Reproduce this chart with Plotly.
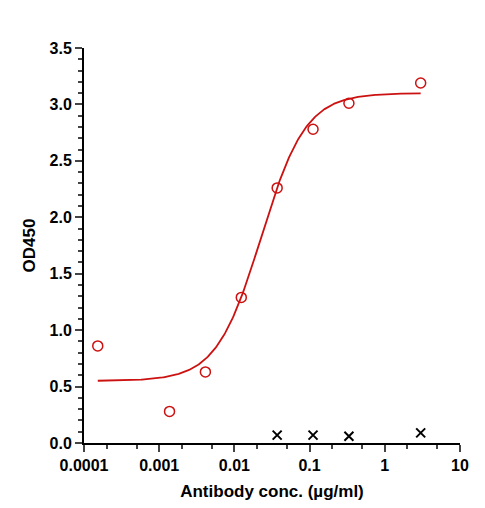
import numpy as np
import plotly.graph_objects as go

conc = [3, 0.3333, 0.1111, 0.03704, 0.01235, 0.004115, 0.001372, 0.0001524]
od = [3.19, 3.01, 2.78, 2.26, 1.29, 0.63, 0.28, 0.86]
neg_conc = [3, 0.3333, 0.1111, 0.03704]
neg_od = [0.09, 0.06, 0.07, 0.07]
# 4PL fit parameters: bottom, top, EC50, hill
fit_bottom, fit_top, fit_ec50, fit_hill = 0.55, 3.10, 0.0227, 1.46
xtick_vals = [0.0001, 0.001, 0.01, 0.1, 1, 10]
xtick_text = ["0.0001", "0.001", "0.01", "0.1", "1", "10"]

xs = np.logspace(np.log10(min(conc)), np.log10(max(conc)), 300)
ys = fit_bottom + (fit_top - fit_bottom) / (1 + (fit_ec50 / xs) ** fit_hill)

red = "#cc1111"
fig = go.Figure()
fig.add_trace(go.Scatter(x=xs, y=ys, mode="lines", line=dict(color=red, width=1.8)))
fig.add_trace(go.Scatter(x=conc, y=od, mode="markers",
                         marker=dict(symbol="circle-open", size=10, color=red, line=dict(width=1.5))))
fig.add_trace(go.Scatter(x=neg_conc, y=neg_od, mode="markers",
                         marker=dict(symbol="x-thin-open", size=9, color="black", line=dict(width=2))))

font = dict(family="Arial, Liberation Sans", size=16, color="black")
tf = dict(size=16, family="Arial, Liberation Sans", color="black", weight="bold")
fig.update_layout(
    width=485, height=508, showlegend=False,
    margin=dict(l=76, r=33, t=40, b=73),
    plot_bgcolor="white", paper_bgcolor="white", font=font,
)
fig.update_xaxes(type="log", range=[-4, 1], tickvals=xtick_vals, ticktext=xtick_text,
                 ticks="outside", ticklen=7, tickwidth=2, showline=True, linewidth=2, linecolor="black",
                 showgrid=False, zeroline=False,
                 minor=dict(ticks="outside", ticklen=4, tickwidth=1.5, showgrid=False),
                 tickfont=tf,
                 title=dict(text="<b>Antibody conc. (µg/ml)</b>", font=dict(size=17), standoff=12))
fig.update_yaxes(range=[0, 3.5], dtick=0.5, tickformat=".1f",
                 ticks="outside", ticklen=7, tickwidth=2, showline=True, linewidth=2, linecolor="black",
                 showgrid=False, zeroline=False,
                 minor=dict(ticks="outside", ticklen=4, tickwidth=1.5, dtick=0.1, showgrid=False),
                 tickfont=tf,
                 title=dict(text="<b>OD450</b>", font=dict(size=17), standoff=10))
fig.write_html("out.html")
